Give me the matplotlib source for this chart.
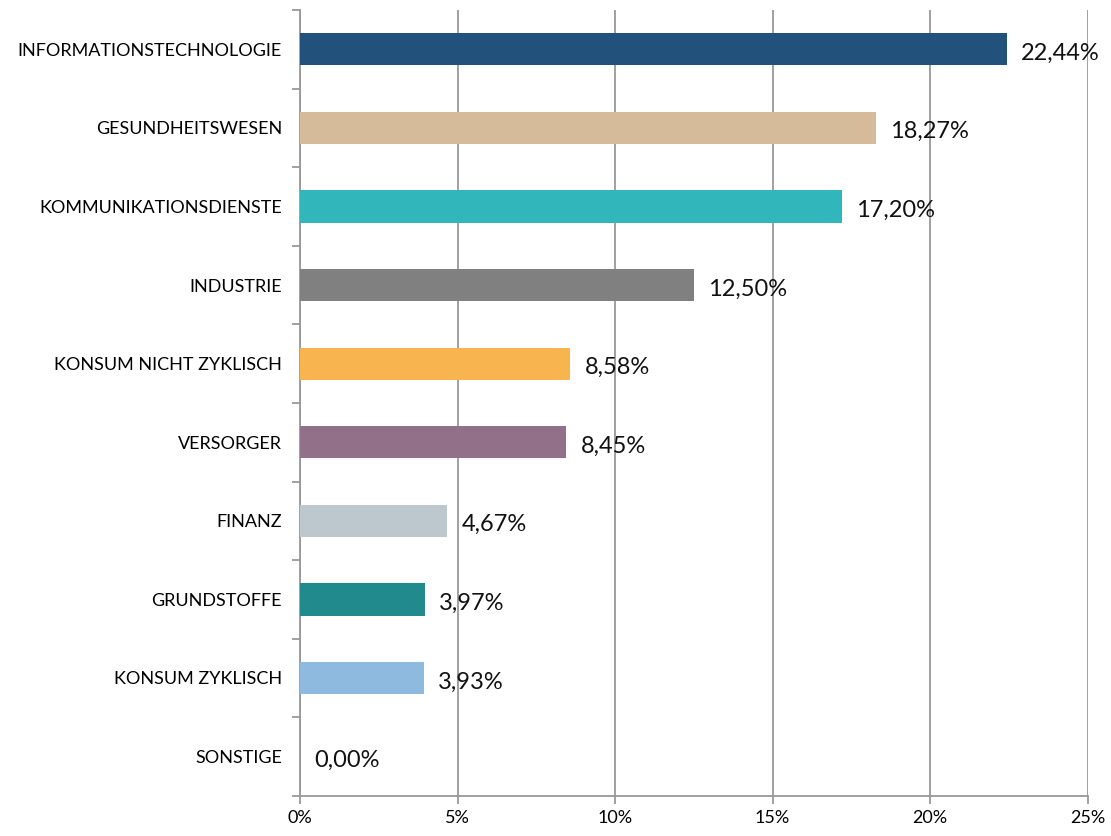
import numpy as np
import matplotlib.pyplot as plt
from matplotlib.ticker import FixedLocator

plt.rcParams['font.family'] = ['Lato', 'DejaVu Sans']

sectors = ["INFORMATIONSTECHNOLOGIE", "GESUNDHEITSWESEN", "KOMMUNIKATIONSDIENSTE",
           "INDUSTRIE", "KONSUM NICHT ZYKLISCH", "VERSORGER", "FINANZ",
           "GRUNDSTOFFE", "KONSUM ZYKLISCH", "SONSTIGE"]
weights = [22.44, 18.27, 17.20, 12.50, 8.58, 8.45, 4.67, 3.97, 3.93, 0.00]
colors = ["#22517B", "#D5BB99", "#31B7BB", "#808080", "#F8B44F",
          "#937089", "#BDC7CE", "#218A8C", "#8FBAE0", "#FFFFFF"]
xticks = [0, 5, 10, 15, 20, 25]

fig = plt.figure(figsize=(11.11, 8.36), dpi=100)
ax = fig.add_axes([0.270, 0.048, 0.709, 0.940])

y = np.arange(len(sectors))
ax.barh(y, weights, height=0.41, color=colors, zorder=3)
for yi, w in zip(y, weights):
    ax.text(w + 0.45, yi + 0.05, f"{w:.2f}%".replace('.', ','),
            va='center', ha='left', fontsize=17, color='#111111', zorder=4)

ax.set_xlim(0, 25)
ax.set_ylim(len(sectors) - 0.5, -0.5)
ax.set_xticks(xticks)
ax.set_xticklabels([f"{t}%" for t in xticks], fontsize=13)
ax.set_yticks(y)
ax.set_yticklabels(sectors, fontsize=13)
ax.tick_params(axis='y', which='major', length=0, pad=13)
ax.yaxis.set_minor_locator(FixedLocator(np.arange(-0.5, len(sectors), 1)))
ax.tick_params(axis='y', which='minor', length=6, color='#999999', width=1.3)
ax.tick_params(axis='x', length=6, color='#999999', width=1.3, pad=4)

ax.grid(axis='x', color='#999999', linewidth=1.3, zorder=0)
for s in ['top', 'right']:
    ax.spines[s].set_visible(False)
for s in ['left', 'bottom']:
    ax.spines[s].set_color('#999999')
    ax.spines[s].set_linewidth(1.3)

fig.savefig('out.png', dpi=100)
